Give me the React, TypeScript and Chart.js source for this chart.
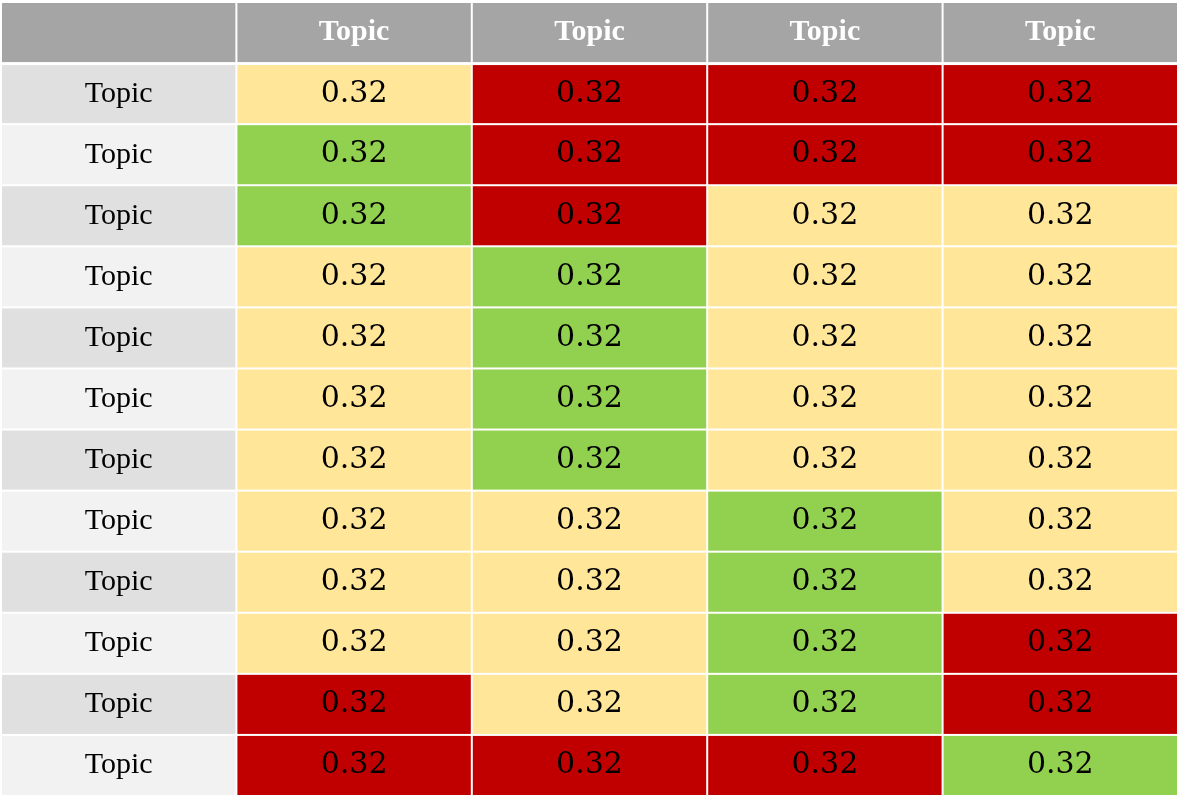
import { useEffect, useRef } from "react";
import { Chart, registerables } from "chart.js";

Chart.register(...registerables);

const columnLabels = ["Topic", "Topic", "Topic", "Topic"];
const rowLabels = Array(12).fill("Topic");
// Y = yellow, G = green, R = red, one string per column
const levels: string[][] = [
  ["Y", "G", "G", "Y", "Y", "Y", "Y", "Y", "Y", "Y", "R", "R"],
  ["R", "R", "R", "G", "G", "G", "G", "Y", "Y", "Y", "Y", "R"],
  ["R", "R", "Y", "Y", "Y", "Y", "Y", "G", "G", "G", "G", "R"],
  ["R", "R", "Y", "Y", "Y", "Y", "Y", "Y", "Y", "R", "R", "G"],
];
const values: number[][] = levels.map((col) => col.map(() => 0.32));

const levelColors: Record<string, string> = {
  Y: "#FFE699",
  G: "#92D050",
  R: "#C00000",
};

const cellPlugin = {
  id: "cells",
  afterDatasetsDraw(chart: Chart) {
    const { ctx } = chart;
    const xs = chart.scales.x;
    const ys = chart.scales.y;
    const rect = (c: number, r: number, fill: string) => {
      const x0 = xs.getPixelForValue(c) + 1;
      const x1 = xs.getPixelForValue(c + 1) - 1;
      const y0 = ys.getPixelForValue(r) + (r === 1 ? 2 : 1);
      const y1 = ys.getPixelForValue(r + 1) - 1;
      ctx.fillStyle = fill;
      ctx.fillRect(x0, y0, x1 - x0, y1 - y0);
      return { cx: (x0 + x1) / 2, cy: (y0 + y1) / 2 };
    };
    const text = (s: string, x: number, y: number, font: string, color: string) => {
      ctx.font = font;
      ctx.fillStyle = color;
      ctx.textAlign = "center";
      ctx.textBaseline = "middle";
      ctx.fillText(s, x, y);
    };
    ctx.save();
    rect(0, 0, "#A5A5A5");
    columnLabels.forEach((l, i) => {
      const p = rect(i + 1, 0, "#A5A5A5");
      text(l, p.cx, p.cy, "bold 30px 'Liberation Serif'", "#FFFFFF");
    });
    rowLabels.forEach((l, r) => {
      const p = rect(0, r + 1, r % 2 === 0 ? "#E0E0E0" : "#F2F2F2");
      text(l, p.cx, p.cy, "30px 'Liberation Serif'", "#000000");
    });
    levels.forEach((col, c) => {
      col.forEach((lv, r) => {
        const p = rect(c + 1, r + 1, levelColors[lv]);
        text(values[c][r].toFixed(2), p.cx, p.cy, "30px 'DejaVu Serif'", "#000000");
      });
    });
    ctx.restore();
  },
};

export default function App() {
  const canvasRef = useRef<HTMLCanvasElement>(null);

  useEffect(() => {
    document.body.style.margin = "0";
    const chart = new Chart(canvasRef.current!, {
      type: "scatter",
      data: {
        datasets: [
          {
            data: levels.flatMap((col, c) => col.map((_, r) => ({ x: c + 1.5, y: r + 1.5 }))),
            pointRadius: 0,
          },
        ],
      },
      options: {
        animation: false,
        responsive: false,
        events: [],
        layout: { padding: { left: 1, right: 4, top: 2, bottom: 6 } },
        plugins: { legend: { display: false }, tooltip: { enabled: false } },
        scales: {
          x: { type: "linear", min: 0, max: 5, display: false },
          y: { type: "linear", min: 0, max: 13, reverse: true, display: false },
        },
      },
      plugins: [cellPlugin],
    });
    return () => {
      chart.destroy();
    };
  }, []);

  return (
    <div style={{ width: 1182, height: 802, background: "#fff" }}>
      <canvas ref={canvasRef} width={1182} height={802}></canvas>
    </div>
  );
}
